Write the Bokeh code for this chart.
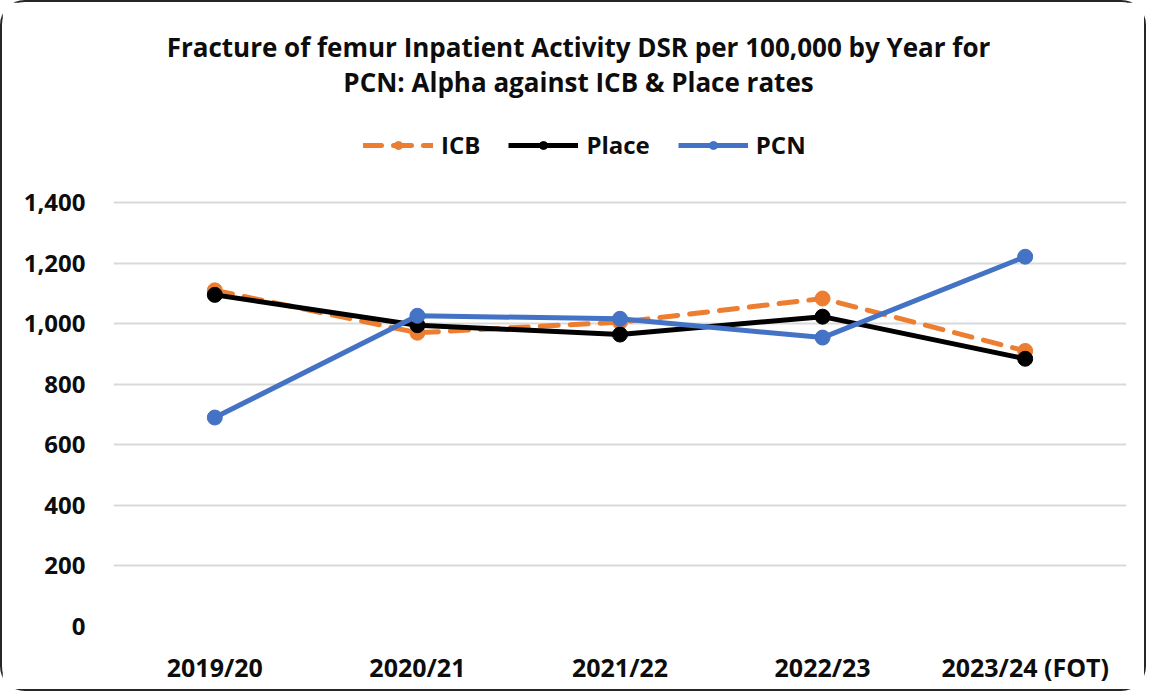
from bokeh.plotting import figure
from bokeh.models import (FactorRange, Range1d, FixedTicker, Label, Legend, LegendItem,
                          NumeralTickFormatter)
from bokeh.embed import file_html
from bokeh.resources import INLINE

years = ["2019/20", "2020/21", "2021/22", "2022/23", "2023/24 (FOT)"]
icb = [1110, 970, 1005, 1083, 910]
place = [1095, 995, 964, 1023, 884]
pcn = [690, 1026, 1016, 954, 1221]
y_ticks = [0, 200, 400, 600, 800, 1000, 1200, 1400]

FONT = "Open Sans"
W, H = 1146, 691
FL, FR = 111, 22
frame_bottom = 624
FB = H - frame_bottom
px_per_unit = 424 / 1400.0

p = figure(width=W, height=H, output_backend="svg", toolbar_location=None,
           x_range=FactorRange(*years), y_range=Range1d(0, frame_bottom / px_per_unit),
           min_border_left=FL, min_border_right=FR, min_border_top=0, min_border_bottom=FB)
p.styles = {"border": "2px solid #262626", "border-radius": "25px"}
p.outline_line_color = None
p.background_fill_color = "white"
p.border_fill_color = "white"

p.xgrid.grid_line_color = None
p.ygrid.grid_line_color = "#d9d9d9"
p.ygrid.grid_line_width = 2
p.yaxis.ticker = FixedTicker(ticks=y_ticks)
p.yaxis.formatter = NumeralTickFormatter(format="0,0")

for ax in (p.xaxis[0], p.yaxis[0]):
    ax.axis_line_color = None
    ax.major_tick_line_color = None
    ax.minor_tick_line_color = None
    ax.major_tick_out = 0
    ax.major_tick_in = 0
    ax.minor_tick_out = 0
    ax.major_label_text_font = FONT
    ax.major_label_text_font_style = "bold"
    ax.major_label_text_font_size = "24px"
    ax.major_label_text_color = "#0d0d0d"
p.xaxis.major_label_text_font_size = "25px"
p.yaxis.major_label_standoff = 28
p.xaxis.major_label_standoff = 23

r_icb = p.line(years, icb, line_color="#ED7D31", line_width=5, line_dash="18 12", line_cap="round")
m_icb = p.scatter(years, icb, size=15, fill_color="#ED7D31", line_color="#ED7D31")
r_place = p.line(years, place, line_color="#000000", line_width=5)
m_place = p.scatter(years, place, size=15, fill_color="#000000", line_color="#000000")
r_pcn = p.line(years, pcn, line_color="#4472C4", line_width=5)
m_pcn = p.scatter(years, pcn, size=15, fill_color="#4472C4", line_color="#4472C4")

legend = Legend(items=[LegendItem(label="ICB", renderers=[r_icb, m_icb]),
                       LegendItem(label="Place", renderers=[r_place, m_place]),
                       LegendItem(label="PCN", renderers=[r_pcn, m_pcn])],
                orientation="horizontal", location=(250, 465),
                glyph_width=70, glyph_height=20, label_standoff=8, spacing=28,
                padding=0, margin=0, border_line_color=None, background_fill_alpha=0,
                label_text_font=FONT, label_text_font_style="bold",
                label_text_font_size="24px", label_text_color="#0d0d0d")
p.add_layout(legend)

for txt, yy in [("Fracture of femur Inpatient Activity DSR per 100,000 by Year for", 580),
                ("PCN: Alpha against ICB & Place rates", 545)]:
    p.add_layout(Label(x=465, y=yy, x_units="screen", y_units="screen", text=txt,
                       text_align="center", text_baseline="middle", text_font=FONT,
                       text_font_style="bold", text_font_size="26px", text_color="#0d0d0d"))

open("out.html", "w").write(file_html(p, INLINE))
